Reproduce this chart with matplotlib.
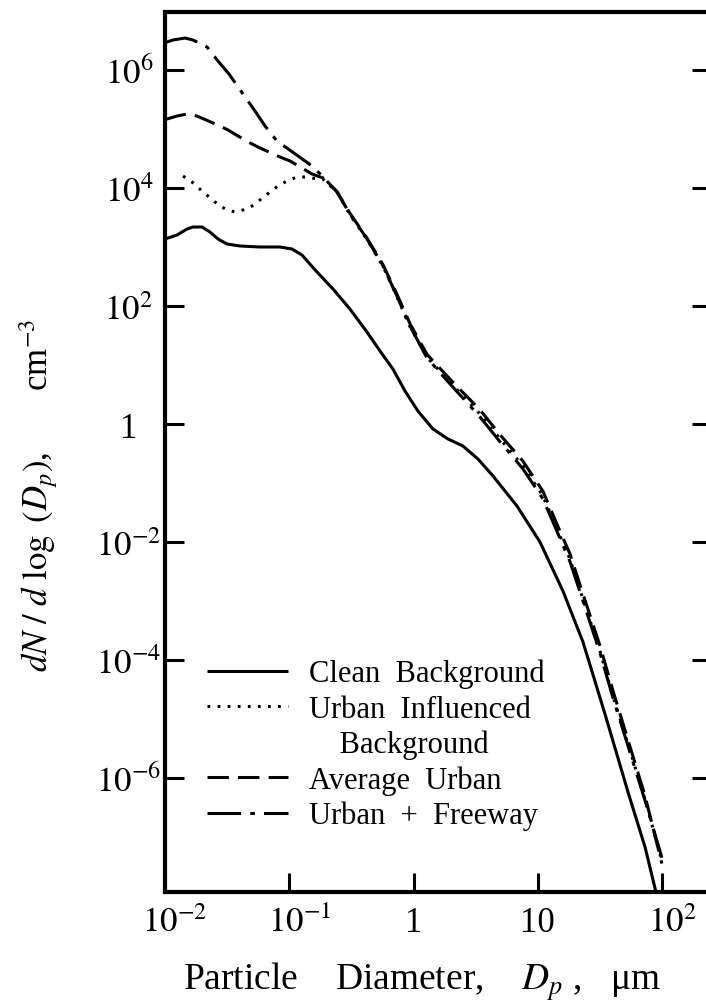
import numpy as np
import matplotlib
matplotlib.use("Agg")
import matplotlib.pyplot as plt
from matplotlib.lines import Line2D
from matplotlib.ticker import FixedLocator, FixedFormatter, NullLocator
import matplotlib.transforms as mtransforms

plt.rcParams['font.family'] = ['Liberation Serif', 'DejaVu Serif']
plt.rcParams['mathtext.fontset'] = 'stix'

# ---- data (log10 of diameter in um, log10 of dN/dlogDp in cm^-3) ----
clean_logd = [-2.000, -1.903, -1.823, -1.775, -1.702, -1.638, -1.574, -1.501, -1.397, -1.236,
              -1.075, -0.978, -0.898, -0.777, -0.648, -0.512, -0.375, -0.270, -0.166, -0.069,
              0.035, 0.156, 0.277, 0.397, 0.518, 0.639, 0.832, 1.017, 1.202, 1.363,
              1.540, 1.725, 1.862, 1.950]
clean_logn = [3.136, 3.203, 3.305, 3.339, 3.339, 3.254, 3.136, 3.051, 3.017, 3.000,
              3.000, 2.966, 2.864, 2.576, 2.288, 1.949, 1.559, 1.237, 0.932, 0.559,
              0.220, -0.085, -0.254, -0.373, -0.593, -0.881, -1.390, -2.000, -2.831, -3.695,
              -4.915, -6.237, -7.169, -7.932]

uib_logd = [-1.855, -1.783, -1.702, -1.598, -1.517, -1.437, -1.372, -1.300, -1.236, -1.155,
            -1.091, -1.018, -0.938, -0.858, -0.777, -0.729, -0.616, -0.512, -0.375, -0.246,
            -0.134, -0.029, 0.108, 0.293, 0.534, 0.695, 0.880, 1.041, 1.154, 1.258,
            1.363, 1.500, 1.604, 1.717, 1.862, 1.998]
uib_logn = [4.203, 4.102, 3.949, 3.763, 3.644, 3.593, 3.627, 3.695, 3.797, 3.932,
            4.034, 4.119, 4.186, 4.186, 4.153, 4.150, 3.930, 3.550, 3.130, 2.670,
            2.160, 1.650, 1.130, 0.710, 0.170, -0.250, -0.710, -1.220, -1.780, -2.290,
            -2.970, -3.850, -4.610, -5.370, -6.360, -7.410]

avg_logd = [-2.000, -1.984, -1.903, -1.823, -1.743, -1.558, -1.493, -1.332, -1.252, -1.075,
            -0.994, -0.817, -0.729, -0.616, -0.512, -0.375, -0.246, -0.134, -0.029, 0.108,
            0.293, 0.534, 0.695, 0.880, 1.041, 1.154, 1.258, 1.363, 1.500, 1.604,
            1.717, 1.862, 1.998]
avg_logn = [5.170, 5.169, 5.220, 5.254, 5.220, 5.051, 4.983, 4.780, 4.695, 4.525,
            4.458, 4.237, 4.170, 3.940, 3.570, 3.150, 2.700, 2.200, 1.700, 1.180,
            0.760, 0.240, -0.180, -0.630, -1.140, -1.700, -2.200, -2.880, -3.760, -4.520,
            -5.300, -6.300, -7.450]

fwy_logd = [-2.000, -1.984, -1.936, -1.839, -1.775, -1.694, -1.662, -1.574, -1.485, -1.276,
            -1.195, -1.099, -0.817, -0.729, -0.616, -0.512, -0.375, -0.246, -0.134, -0.029,
            0.108, 0.293, 0.534, 0.695, 0.880, 1.041, 1.154, 1.258, 1.363, 1.500,
            1.604, 1.717, 1.862, 1.998]
fwy_logn = [6.460, 6.475, 6.508, 6.542, 6.508, 6.424, 6.390, 6.153, 5.932, 5.305,
            5.051, 4.797, 4.373, 4.190, 3.930, 3.560, 3.140, 2.680, 2.170, 1.660,
            1.120, 0.680, 0.120, -0.300, -0.760, -1.270, -1.820, -2.330, -3.000, -3.880,
            -4.640, -5.400, -6.380, -7.350]

labels = ["Clean  Background", "Urban  Influenced", "    Background",
          "Average  Urban", "Urban  +  Freeway"]
xtick_vals = [1e-2, 1e-1, 1, 10, 1e2]
xtick_labels = [r"$10^{-2}$", r"$10^{-1}$", "1", "10", r"$10^{2}$"]
ytick_vals = [1e6, 1e4, 1e2, 1, 1e-2, 1e-4, 1e-6]
ytick_labels = [r"$10^{6}$", r"$10^{4}$", r"$10^{2}$", "1", r"$10^{-2}$", r"$10^{-4}$", r"$10^{-6}$"]

W, H = 706, 1004
fig = plt.figure(figsize=(W / 100, H / 100), dpi=100)
ax = fig.add_axes([165 / W, 1 - 893 / H, (711 - 165) / W, (893 - 13) / H])
ax.set_xscale('log')
ax.set_yscale('log')

lw = 2.2
p = lambda a: 10 ** np.asarray(a)
l1, = ax.plot(p(clean_logd), p(clean_logn), color='black', lw=lw, solid_capstyle='butt')
l2, = ax.plot(p(uib_logd), p(uib_logn), color='black', lw=lw, linestyle=(0, (0.9, 2.4)))
l3, = ax.plot(p(avg_logd), p(avg_logn), color='black', lw=lw, linestyle=(0, (7, 3)))
l4, = ax.plot(p(fwy_logd), p(fwy_logn), color='black', lw=lw, linestyle=(0, (11, 3, 1.5, 3)))

ax.set_xlim(0.01, 10 ** 2.393)
ax.set_ylim(10 ** -7.932, 10 ** 6.983)

for s in ax.spines.values():
    s.set_linewidth(3)

ax.xaxis.set_major_locator(FixedLocator(xtick_vals))
ax.xaxis.set_major_formatter(FixedFormatter(xtick_labels))
ax.xaxis.set_minor_locator(NullLocator())
ax.yaxis.set_major_locator(FixedLocator(ytick_vals))
ax.yaxis.set_major_formatter(FixedFormatter(ytick_labels))
ax.yaxis.set_minor_locator(NullLocator())

ax.tick_params(axis='x', direction='in', length=13.5, width=2.2, labelsize=25,
               top=False, bottom=True, pad=10)
ax.tick_params(axis='y', direction='in', length=13.5, width=2.2, labelsize=25,
               left=True, right=True, pad=26)
for t in ax.get_yticklabels():
    t.set_horizontalalignment('center')

shift = mtransforms.ScaledTranslation(10 / 100, 0, fig.dpi_scale_trans)
for t, txt in zip(ax.get_xticklabels(), xtick_labels):
    if '^' in txt:
        t.set_transform(t.get_transform() + shift)

blank = Line2D([], [], color='none')
leg = ax.legend([l1, l2, blank, l3, l4], labels, loc='upper left',
                bbox_to_anchor=((207 - 165) / 546, (893 - 660) / 880),
                frameon=False, fontsize=22, handlelength=2.65, handletextpad=0.7,
                labelspacing=0.2, borderpad=0, borderaxespad=0)

ax.set_ylabel(r"$dN\ /\ d\ \log\ (D_p)$,       cm$^{-3}$", fontsize=25)
ax.yaxis.set_label_coords((60 - 165) / 546, (893 - 495) / 880)

fig.text(422 / W, 1 - 990 / H, r"Particle    Diameter,    $D_p$ ,   μm",
         ha='center', va='baseline', fontsize=27)

fig.savefig("out.png", dpi=100)
